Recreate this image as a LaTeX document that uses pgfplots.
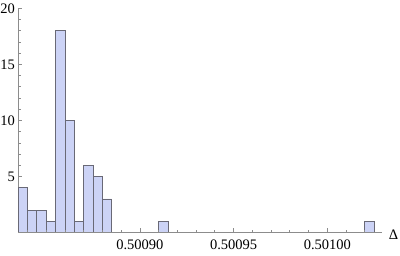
\documentclass[border=0pt]{standalone}
\usepackage{fontspec}
\setmainfont{Liberation Serif}
\usepackage{pgfplots}
\pgfplotsset{compat=1.18}
\definecolor{barfill}{RGB}{204,211,246}
\definecolor{baredge}{RGB}{105,105,118}
\definecolor{axgray}{RGB}{140,140,140}
\begin{document}
\begin{tikzpicture}
\path[use as bounding box] (0bp,0bp) rectangle (400bp,256bp);
\begin{axis}[
  at={(18bp,23.5bp)}, anchor=south west,
  scale only axis, width=363.7bp, height=224.2bp,
  xmin=0.500835, xmax=0.501029, ymin=0, ymax=20,
  axis x line*=bottom, axis y line*=left,
  axis line style={draw=axgray, line width=0.8bp},
  tick align=inside,
  major tick length=4.5bp, minor tick length=2.6bp,
  tick style={draw=axgray, line width=0.6bp},
  scaled x ticks=false,
  xtick={0.5009,0.50095,0.501},
  xticklabels={0.50090,0.50095,0.50100},
  ytick={5,10,15,20},
  minor ytick={1,2,3,4,6,7,8,9,11,12,13,14,16,17,18,19},
  /pgf/number format/assume math mode=true,
  tick label style={font=\fontsize{14.5bp}{17bp}\selectfont, black},
  xticklabel style={inner sep=0pt, yshift=-7bp},
  yticklabel style={inner sep=0pt, xshift=-3bp},
  xlabel={Δ},
  xlabel style={at={(axis description cs:1,0)}, anchor=west, xshift=7bp, yshift=-2bp, inner sep=0pt, font=\fontsize{14.5bp}{17bp}\selectfont},
  clip=false,
]
\addplot[ybar interval, fill=barfill, draw=baredge, line width=0.7bp] coordinates {
(0.500835,4) (0.500840,2) (0.500845,2) (0.500850,1) (0.500855,18)
(0.500860,10) (0.500865,1) (0.500870,6) (0.500875,5) (0.500880,3) (0.500885,3)};
\addplot[ybar interval, fill=barfill, draw=baredge, line width=0.7bp] coordinates {
(0.500910,1) (0.500915,1)};
\addplot[ybar interval, fill=barfill, draw=baredge, line width=0.7bp] coordinates {
(0.501020,1) (0.501025,1)};
% x axis line and its ticks, drawn through the axis
\addplot[axgray, line width=0.9bp, mark=none, forget plot] coordinates {(0.500835,0) (0.501029,0)};
\addplot[axgray, line width=0.7bp, ycomb, mark=none, forget plot] coordinates {
(0.50090,0.40) (0.50095,0.40) (0.50100,0.40)};
\addplot[axgray, line width=0.7bp, ycomb, mark=none, forget plot] coordinates {
(0.50084,0.23) (0.50085,0.23) (0.50086,0.23) (0.50087,0.23) (0.50088,0.23) (0.50089,0.23)
(0.50091,0.23) (0.50092,0.23) (0.50093,0.23) (0.50094,0.23) (0.50096,0.23) (0.50097,0.23)
(0.50098,0.23) (0.50099,0.23) (0.50101,0.23) (0.50102,0.23)};
\end{axis}
\end{tikzpicture}
\end{document}
